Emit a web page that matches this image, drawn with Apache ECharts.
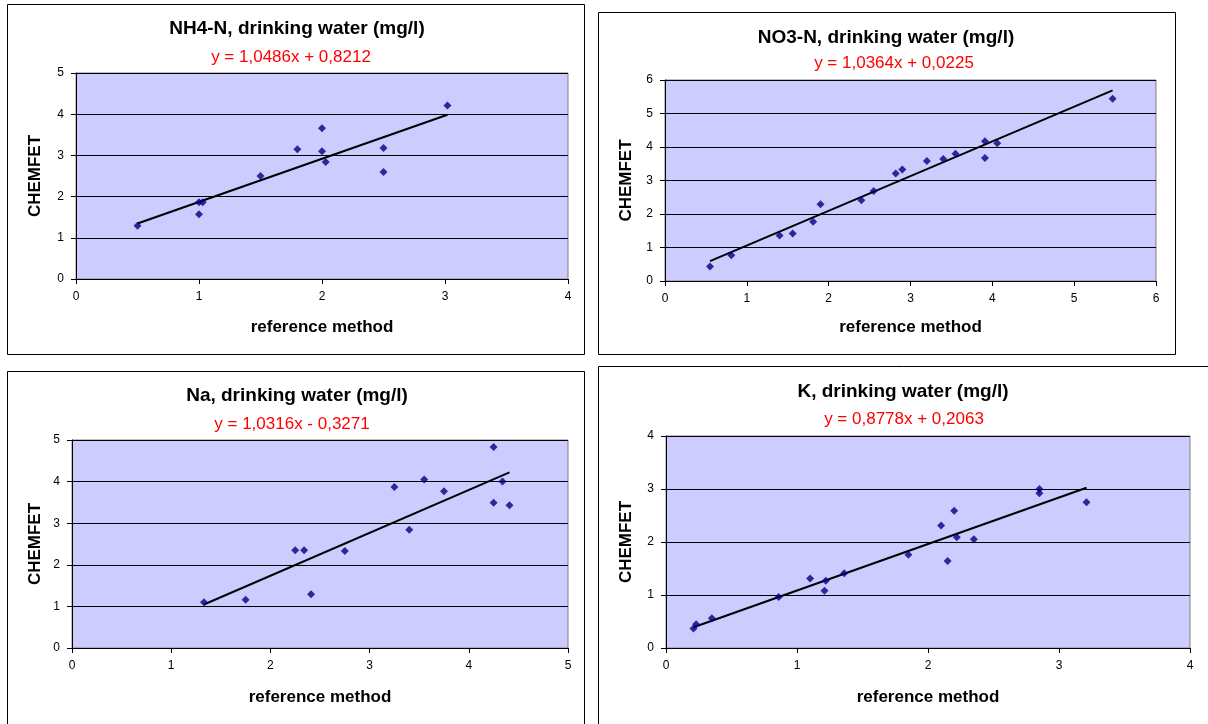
<!DOCTYPE html>
<html>
<head>
<meta charset="utf-8">
<script src="https://cdn.jsdelivr.net/npm/echarts@6/dist/echarts.min.js"></script>
<style>
html,body{margin:0;padding:0;background:#fff;}
#c{width:1208px;height:724px;}
</style>
</head>
<body>
<div id="c"></div>
<script>
// ---- data ----
const chartTitles = ['NH4-N, drinking water (mg/l)', 'NO3-N, drinking water (mg/l)', 'Na, drinking water (mg/l)', 'K, drinking water (mg/l)'];
const equationLabels = ['y = 1,0486x + 0,8212', 'y = 1,0364x + 0,0225', 'y = 1,0316x - 0,3271', 'y = 0,8778x + 0,2063'];
const slopes = [1.0486, 1.0364, 1.0316, 0.8778];
const intercepts = [0.8212, 0.0225, -0.3271, 0.2063];
const xAxisMax = [4, 6, 5, 4];
const yAxisMax = [5, 6, 5, 4];
const xAxisName = 'reference method';
const yAxisName = 'CHEMFET';

const nh4X = [0.50, 1.00, 1.03, 1.00, 1.50, 1.80, 2.00, 2.00, 2.03, 2.50, 2.50, 3.02];
const nh4Y = [1.29, 1.86, 1.86, 1.57, 2.50, 3.15, 3.66, 3.10, 2.84, 3.18, 2.60, 4.21];

const no3X = [0.55, 0.81, 1.40, 1.56, 1.81, 1.90, 2.40, 2.55, 2.82, 2.90, 3.20, 3.40, 3.55, 3.91, 3.91, 4.06, 5.47];
const no3Y = [0.43, 0.77, 1.36, 1.42, 1.77, 2.29, 2.41, 2.69, 3.21, 3.33, 3.58, 3.64, 3.80, 4.17, 3.67, 4.11, 5.44];

const naX = [1.33, 1.75, 2.25, 2.34, 2.41, 2.75, 3.25, 3.40, 3.55, 3.75, 4.25, 4.34, 4.25, 4.41];
const naY = [1.10, 1.16, 2.35, 2.35, 1.29, 2.33, 3.87, 2.84, 4.05, 3.77, 4.83, 4.00, 3.49, 3.43];

const kX = [0.21, 0.23, 0.35, 0.86, 1.10, 1.21, 1.22, 1.36, 1.85, 2.10, 2.15, 2.20, 2.22, 2.35, 2.85, 2.85, 3.21];
const kY = [0.37, 0.45, 0.56, 0.96, 1.31, 1.08, 1.27, 1.41, 1.76, 2.31, 1.64, 2.59, 2.09, 2.05, 3.00, 2.92, 2.75];

const seriesX = [nh4X, no3X, naX, kX];
const seriesY = [nh4Y, no3Y, naY, kY];

// ---- layout ----
const grids = [
  {left: 76, top: 73, width: 492, height: 206},
  {left: 665, top: 80, width: 491, height: 201},
  {left: 72, top: 440, width: 496, height: 208},
  {left: 666, top: 436, width: 524, height: 212}
];
const panelRects = [
  {x: 7.5, y: 4.5, width: 577, height: 350},
  {x: 598.5, y: 12.5, width: 577, height: 342},
  {x: 7.5, y: 371.5, width: 577, height: 370},
  {x: 598.5, y: 366.5, width: 630, height: 370}
];
const titlePos = [[297, 29], [886, 38], [297, 396], [903, 392]];
const eqPos = [[291, 57], [894, 63], [292, 424], [904, 419]];
const xNameCenterY = [328, 328, 698, 698];
const yNameCenterX = [34.5, 626, 34.5, 626];

const FONT = '"Liberation Sans", Arial, sans-serif';

const option = {
  backgroundColor: '#ffffff',
  animation: false,
  grid: [],
  xAxis: [],
  yAxis: [],
  series: [],
  graphic: []
};

for (let i = 0; i < 4; i++) {
  const g = grids[i];
  option.grid.push({
    left: g.left, top: g.top, width: g.width, height: g.height,
    show: true, backgroundColor: '#CCCCFF', borderColor: '#808080', borderWidth: 1,
    containLabel: false
  });
  option.xAxis.push({
    type: 'value', gridIndex: i, min: 0, max: xAxisMax[i], interval: 1,
    name: xAxisName, nameLocation: 'middle',
    nameGap: xNameCenterY[i] - (g.top + g.height) - 9,
    nameTextStyle: {fontFamily: FONT, fontWeight: 'bold', fontSize: 17, color: '#000'},
    axisLine: {show: true, onZero: false, lineStyle: {color: '#000', width: 1}},
    axisTick: {show: true, length: 5, lineStyle: {color: '#000'}},
    axisLabel: {fontFamily: FONT, fontSize: 12, color: '#000', margin: 12},
    splitLine: {show: false}
  });
  option.yAxis.push({
    type: 'value', gridIndex: i, min: 0, max: yAxisMax[i], interval: 1,
    name: yAxisName, nameLocation: 'middle',
    nameGap: g.left - (yNameCenterX[i] + 9),
    nameRotate: 90,
    nameTextStyle: {fontFamily: FONT, fontWeight: 'bold', fontSize: 17, color: '#000'},
    axisLine: {show: true, onZero: false, lineStyle: {color: '#000', width: 1}},
    axisTick: {show: true, length: 5, lineStyle: {color: '#000'}},
    axisLabel: {fontFamily: FONT, fontSize: 12, color: '#000', margin: 12},
    splitLine: {show: true, lineStyle: {color: '#000', width: 1}}
  });
  const xs = seriesX[i], ys = seriesY[i];
  const pts = xs.map((x, k) => [x, ys[k]]);
  const xMin = Math.min.apply(null, xs), xMaxV = Math.max.apply(null, xs);
  const trend = [[xMin, slopes[i] * xMin + intercepts[i]], [xMaxV, slopes[i] * xMaxV + intercepts[i]]];
  option.series.push({
    type: 'line', xAxisIndex: i, yAxisIndex: i, data: trend,
    showSymbol: false, symbol: 'none', silent: true, z: 2,
    lineStyle: {color: '#000', width: 2}
  });
  option.series.push({
    type: 'scatter', xAxisIndex: i, yAxisIndex: i, data: pts,
    symbol: 'diamond', symbolSize: 8, z: 3,
    itemStyle: {color: '#000080'}
  });
  const r = panelRects[i];
  option.graphic.push({
    type: 'rect', shape: {x: r.x, y: r.y, width: r.width, height: r.height},
    style: {fill: null, stroke: '#000', lineWidth: 1}, z: -10, silent: true
  });
  option.graphic.push({
    type: 'text', x: titlePos[i][0], y: titlePos[i][1],
    style: {text: chartTitles[i], font: 'bold 19px ' + FONT, fill: '#000', textAlign: 'center', textVerticalAlign: 'middle'}
  });
  option.graphic.push({
    type: 'text', x: eqPos[i][0], y: eqPos[i][1],
    style: {text: equationLabels[i], font: '17px ' + FONT, fill: '#FF0000', textAlign: 'center', textVerticalAlign: 'middle'}
  });
}

const chart = echarts.init(document.getElementById('c'), null, {renderer: 'canvas'});
chart.setOption(option);
</script>
</body>
</html>
